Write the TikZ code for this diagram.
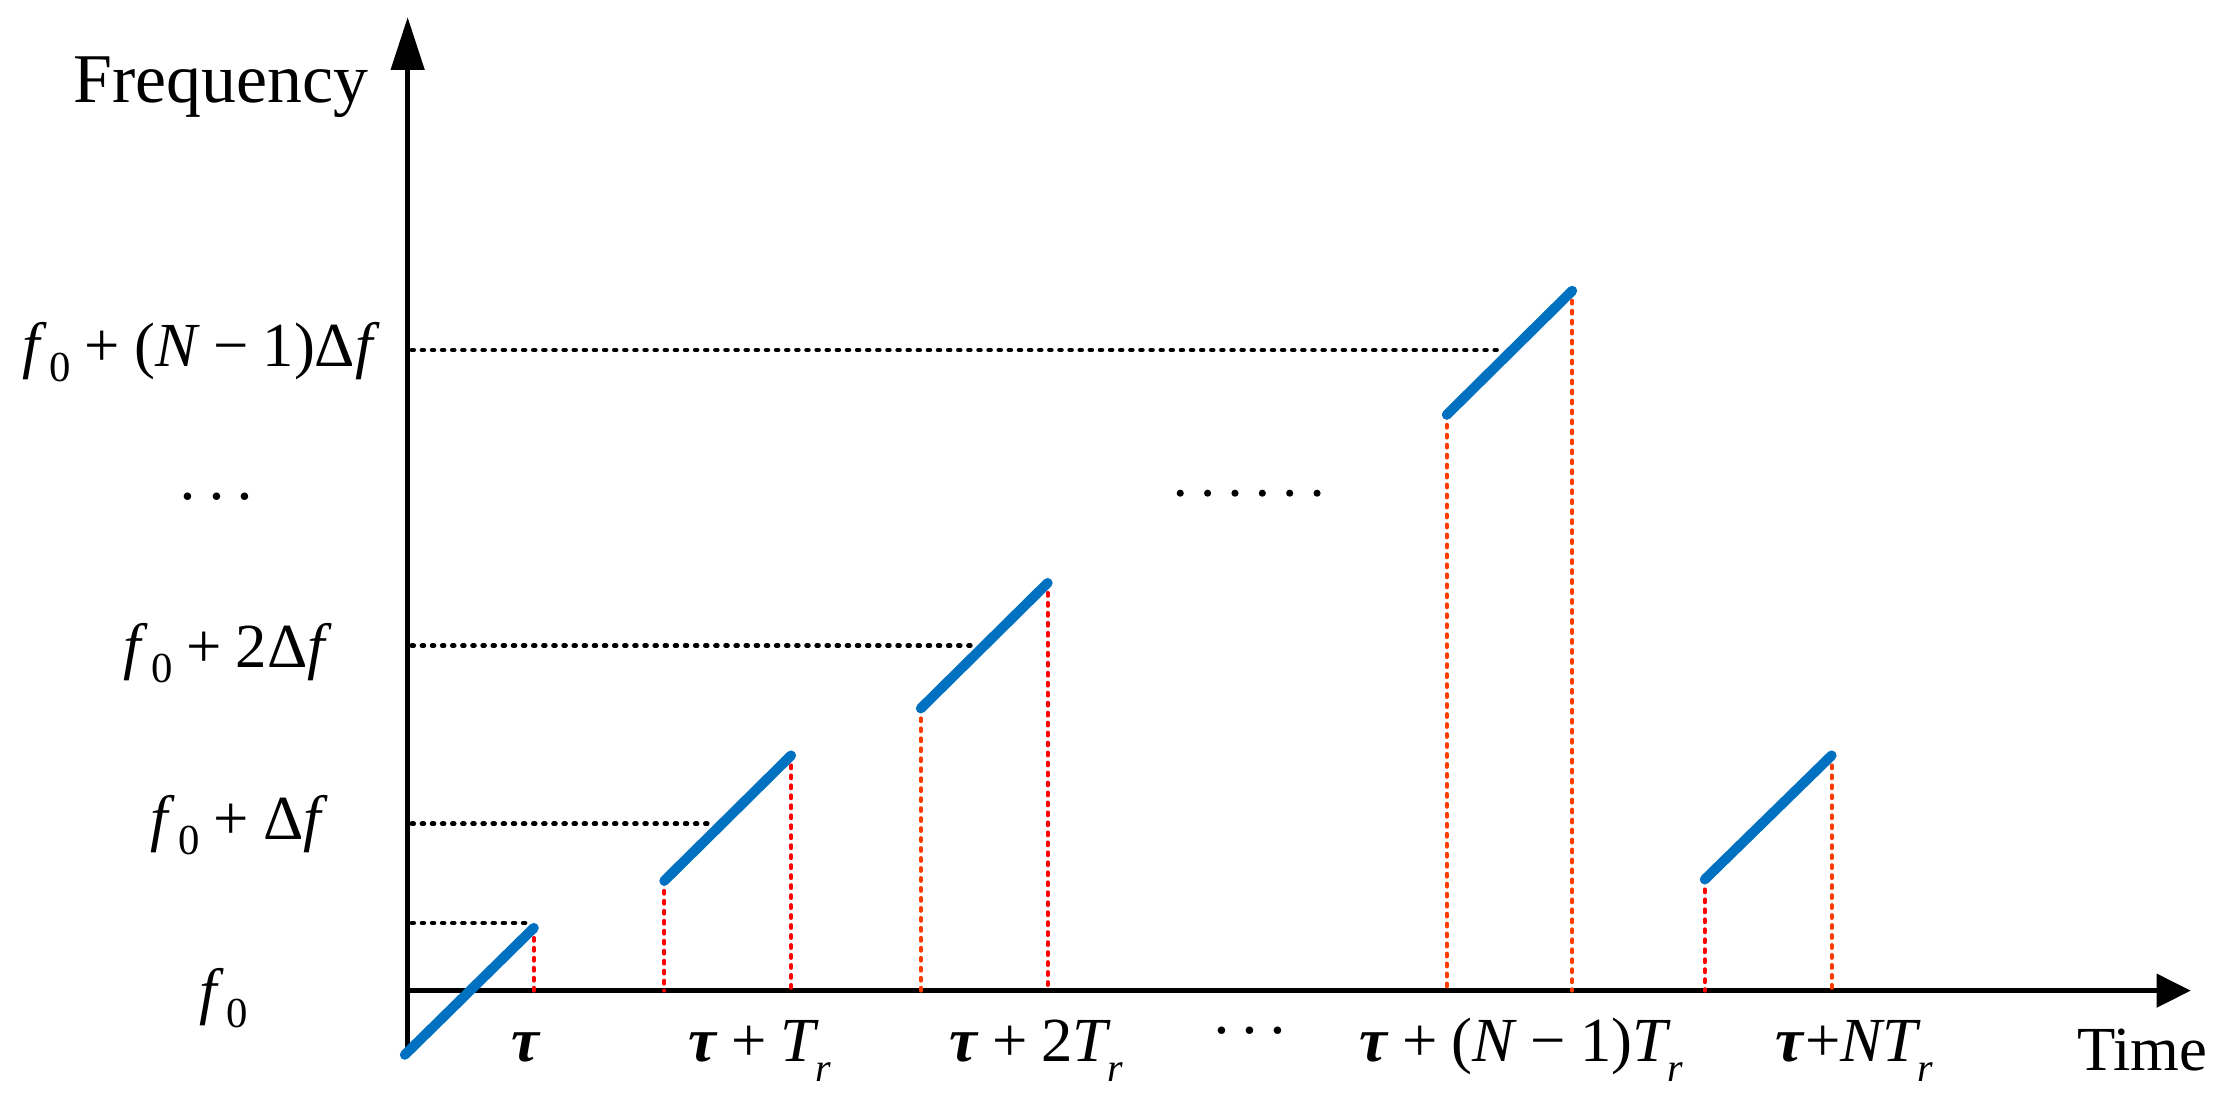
\documentclass[tikz,border=0pt]{standalone}
\usepackage{fontspec}
\setmainfont{Liberation Serif}
\usetikzlibrary{arrows.meta}
\definecolor{rampblue}{RGB}{0,112,192}
\definecolor{vred}{RGB}{255,0,0}
\definecolor{vorange}{RGB}{255,60,0}
\newcommand{\zsub}{\raisebox{-0.24em}{\fontsize{30}{30}\selectfont 0}}
\newcommand{\rsub}{\raisebox{-0.32em}{\fontsize{28}{28}\selectfont\itshape r}}
\newcommand{\fo}{\textit{f}\kern0.05em\zsub}
\newcommand{\pls}{\kern0.22em+\kern0.22em}
\newcommand{\mns}{\kern0.22em\char"2212\kern0.22em}
\newcommand{\tauB}{\textbf{\textit{τ}}}
\newcommand{\Tr}{\textit{T}\kern-0.06em\rsub}
\newcommand{\cdotsx}{·\kern0.12em·\kern0.12em·}
\begin{document}
\begin{tikzpicture}[x=1pt,y=-1pt,
  axisline/.style={line width=3.6pt,black},
  ramp/.style={line width=7pt,rampblue,line cap=round},
  hdots/.style={line width=3.4pt,black,line cap=round,dash pattern=on 1.2pt off 5.9pt},
  vdots/.style={line width=2.8pt,line cap=round,dash pattern=on 2pt off 5pt},
  lbl/.style={font=\fontsize{44}{50}\selectfont,inner sep=0pt},
  bigdot/.style={circle,fill=black,inner sep=0pt,minimum size=5pt}]
\useasboundingbox (0,0) rectangle (1568,775);
% axes
\coordinate (O) at (286,695);
\coordinate (ybot) at (286,736);
\coordinate (ytop) at (286,12);
\coordinate (xend) at (1537,695);
\draw[axisline,-{Triangle[length=37pt,width=23pt]}] (ybot) -- (ytop);
\draw[axisline,-{Triangle[length=24pt,width=23pt]}] (O) -- (xend);
% ramp end points
\coordinate (r1a) at (284,740);  \coordinate (r1b) at (374.5,651);
\coordinate (r2a) at (466,618);  \coordinate (r2b) at (555,530);
\coordinate (r3a) at (646,497);  \coordinate (r3b) at (735,409);
\coordinate (r4a) at (1015,291); \coordinate (r4b) at (1103,204);
\coordinate (r5a) at (1196,617); \coordinate (r5b) at (1285,530);
% horizontal dotted guides
\coordinate (h1a) at (289,647.5); \coordinate (h1b) at (373,647.5);
\coordinate (h2a) at (289,578);   \coordinate (h2b) at (501,578);
\coordinate (h3a) at (289,453);   \coordinate (h3b) at (686,453);
\coordinate (h4a) at (289,245.6); \coordinate (h4b) at (1051,245.6);
\draw[hdots] (h1a) -- (h1b);
\draw[hdots] (h2a) -- (h2b);
\draw[hdots] (h3a) -- (h3b);
\draw[hdots] (h4a) -- (h4b);
% red vertical guides
\draw[vdots,vred]    (r1b) -- (r1b |- O);
\draw[vdots,vred]    (r2a) -- (r2a |- O);
\draw[vdots,vred]    (r2b) -- (r2b |- O);
\draw[vdots,vorange] (r3a) -- (r3a |- O);
\draw[vdots,vred]    (r3b) -- (r3b |- O);
\draw[vdots,vorange] (r4a) -- (r4a |- O);
\draw[vdots,vorange] (r4b) -- (r4b |- O);
\draw[vdots,vred]    (r5a) -- (r5a |- O);
\draw[vdots,vorange] (r5b) -- (r5b |- O);
% ramps
\draw[ramp] (r1a) -- (r1b);
\draw[ramp] (r2a) -- (r2b);
\draw[ramp] (r3a) -- (r3b);
\draw[ramp] (r4a) -- (r4b);
\draw[ramp] (r5a) -- (r5b);
% middle dots
\foreach \i in {0,...,5} {\node[bigdot] (md\i) at (828+19.2*\i,346) {};}
% labels
\node[lbl,anchor=base,font=\fontsize{49}{54}\selectfont] (lfreq) at (155,72) {Frequency};
\node[lbl,anchor=base] (ltime) at (1503,751) {Time};
\node[lbl,anchor=base] (yN) at (141,257) {\fo\pls(\textit{N}\mns1)Δ\textit{f}};
\node[lbl,anchor=base] (ydots) at (152,363) {\cdotsx};
\node[lbl,anchor=base] (y2) at (160,468) {\fo\pls2Δ\textit{f}};
\node[lbl,anchor=base] (y1) at (168,589) {\fo\pls Δ\textit{f}};
\node[lbl,anchor=base] (y0) at (157,710) {\fo};
\node[lbl,anchor=base] (x0) at (369,745) {\tauB};
\node[lbl,anchor=base] (x1) at (533,745) {\tauB\pls\Tr};
\node[lbl,anchor=base] (x2) at (727,745) {\tauB\pls2\Tr};
\node[lbl,anchor=base] (xdots) at (877,738) {\cdotsx};
\node[lbl,anchor=base] (xN1) at (1067,745) {\tauB\pls(\textit{N}\mns1)\Tr};
\node[lbl,anchor=base] (xN) at (1301,745) {\tauB+\textit{N}\kern-0.04em\Tr};
\end{tikzpicture}
\end{document}
